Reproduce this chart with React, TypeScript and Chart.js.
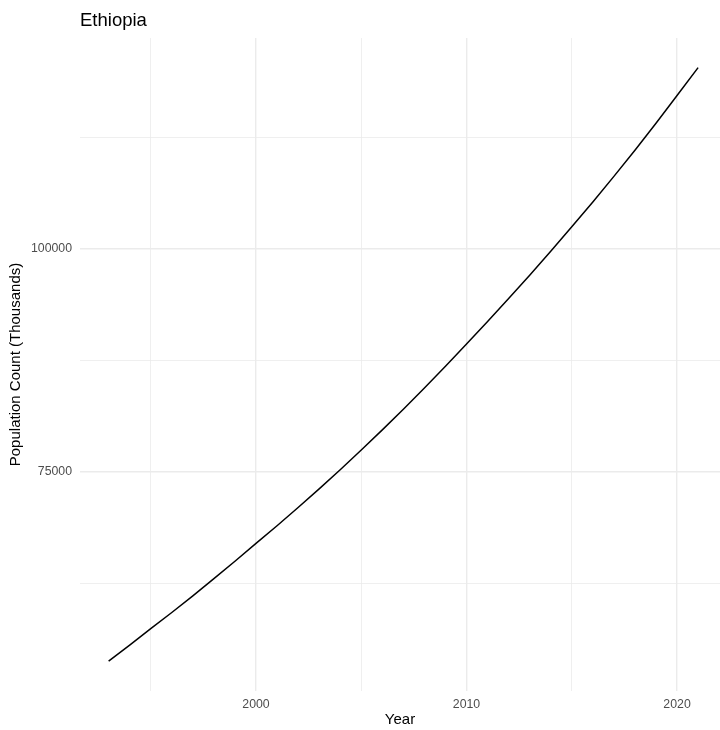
import React, { useEffect, useRef } from 'react';
import { Chart, registerables } from 'chart.js';

Chart.register(...registerables);

const chartTitle = 'Ethiopia';
const xAxisTitle = 'Year';
const yAxisTitle = 'Population Count (Thousands)';

const years = [
  1993, 1994, 1995, 1996, 1997, 1998, 1999, 2000, 2001, 2002,
  2003, 2004, 2005, 2006, 2007, 2008, 2009, 2010, 2011, 2012,
  2013, 2014, 2015, 2016, 2017, 2018, 2019, 2020, 2021,
];
const population = [
  53800, 55600, 57450, 59250, 61120, 63040, 65000, 67000, 68980, 71020,
  73110, 75260, 77470, 79720, 82040, 84420, 86850, 89350, 91870, 94440,
  97070, 99760, 102500, 105280, 108140, 111080, 114100, 117210, 120330,
];

const xTickValues = [1995, 2000, 2005, 2010, 2015, 2020];
const xTickLabels = ['', '2000', '', '2010', '', '2020'];
const yTickValues = [62500, 75000, 87500, 100000, 112500];
const yTickLabels = ['', '75000', '', '100000', ''];

const FONT = '"Liberation Sans", Arial, Helvetica, sans-serif';

export default function App() {
  const canvasRef = useRef<HTMLCanvasElement | null>(null);

  useEffect(() => {
    const canvas = canvasRef.current;
    if (!canvas) return;

    const titlePlugin = {
      id: 'ggTitle',
      afterDraw(chart: any) {
        const ctx = chart.ctx;
        ctx.save();
        ctx.font = `18.5px ${FONT}`;
        ctx.fillStyle = '#000000';
        ctx.textAlign = 'left';
        ctx.textBaseline = 'alphabetic';
        ctx.fillText(chartTitle, chart.chartArea.left, 26);
        ctx.restore();
      },
    };

    const majorX = (v: number) => v % 10 === 0;
    const majorY = (v: number) => v % 25000 === 0;

    const chart = new Chart(canvas, {
      type: 'line',
      data: {
        datasets: [
          {
            data: years.map((y, i) => ({ x: y, y: population[i] })),
            borderColor: '#000000',
            borderWidth: 1.5,
            pointRadius: 0,
            pointHoverRadius: 0,
            tension: 0,
            fill: false,
          },
        ],
      },
      options: {
        responsive: false,
        animation: false,
        layout: { padding: { top: 38, right: 0, bottom: 0, left: 0 } },
        plugins: {
          legend: { display: false },
          title: { display: false },
          tooltip: { enabled: false },
        },
        scales: {
          x: {
            type: 'linear',
            min: 1991.64,
            max: 2022.04,
            afterBuildTicks: (scale: any) => {
              scale.ticks = xTickValues.map((v) => ({ value: v }));
            },
            afterFit: (scale: any) => {
              scale.height = 39;
            },
            border: { display: false },
            grid: {
              color: '#ebebeb',
              drawTicks: false,
              lineWidth: (ctx: any) => (ctx.tick && majorX(ctx.tick.value) ? 1.4 : 0.8),
            },
            ticks: {
              padding: 6,
              color: '#4d4d4d',
              font: { size: 12.3, family: FONT },
              maxRotation: 0,
              autoSkip: false,
              callback: (value: any) => {
                const idx = xTickValues.indexOf(Number(value));
                return idx >= 0 ? xTickLabels[idx] : '';
              },
            },
            title: {
              display: true,
              text: xAxisTitle,
              color: '#000000',
              font: { size: 15, family: FONT },
              padding: { top: 0, bottom: 1 },
            },
          },
          y: {
            type: 'linear',
            min: 50449,
            max: 123655,
            afterBuildTicks: (scale: any) => {
              scale.ticks = yTickValues.map((v) => ({ value: v }));
            },
            afterFit: (scale: any) => {
              scale.width = 80;
            },
            border: { display: false },
            grid: {
              color: '#ebebeb',
              drawTicks: false,
              lineWidth: (ctx: any) => (ctx.tick && majorY(ctx.tick.value) ? 1.4 : 0.8),
            },
            ticks: {
              padding: 8,
              color: '#4d4d4d',
              font: { size: 12.3, family: FONT },
              autoSkip: false,
              callback: (value: any) => {
                const idx = yTickValues.indexOf(Number(value));
                return idx >= 0 ? yTickLabels[idx] : '';
              },
            },
            title: {
              display: true,
              text: yAxisTitle,
              color: '#000000',
              font: { size: 15, family: FONT },
              padding: { top: 7, bottom: 0 },
            },
          },
        },
      },
      plugins: [titlePlugin],
    } as any);

    return () => {
      chart.destroy();
    };
  }, []);

  return (
    <div style={{ position: 'absolute', left: 0, top: 0, width: 720, height: 730, background: '#ffffff' }}>
      <canvas ref={canvasRef} width={720} height={730} style={{ display: 'block' }} />
    </div>
  );
}
